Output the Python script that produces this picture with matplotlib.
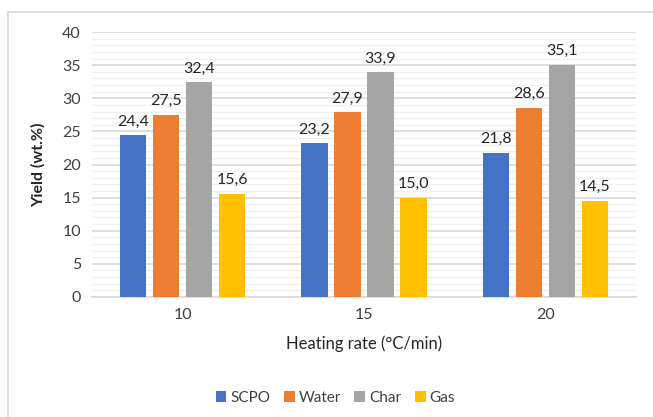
import numpy as np
import matplotlib.pyplot as plt
from matplotlib.patches import Rectangle

plt.rcParams['font.family'] = ['Lato', 'DejaVu Sans']

rates = ["10", "15", "20"]
series = ["SCPO", "Water", "Char", "Gas"]
scpo = [24.4, 23.2, 21.8]
water = [27.5, 27.9, 28.6]
char = [32.4, 33.9, 35.1]
gas = [15.6, 15.0, 14.5]
colors = ["#4472C4", "#ED7D31", "#A5A5A5", "#FFC000"]

fig = plt.figure(figsize=(6.53, 4.17), dpi=100)
ax = fig.add_axes([0.141, 0.288, 0.833, 0.635])

# outer chart border
fig.patches.append(Rectangle((8 / 653, -0.1), 1.2, 0.1 + 1 - 12 / 417,
                             transform=fig.transFigure, fill=False,
                             edgecolor="#D9D9D9", linewidth=1.2))

x = np.arange(len(rates))
width = 0.144
step = 0.182
for i, (name, vals, c) in enumerate(zip(series, [scpo, water, char, gas], colors)):
    pos = x + (i - 1.5) * step
    bars = ax.bar(pos, vals, width, color=c, label=name, zorder=3)
    for b, v in zip(bars, vals):
        ax.text(b.get_x() + b.get_width() / 2, v + 1.0, f"{v:.1f}".replace(".", ","),
                ha="center", va="bottom", fontsize=11.5, color="#262626")

ax.set_xlim(-0.5, 2.5)
ax.set_ylim(0, 40)
ax.set_yticks(range(0, 41, 5))
ax.set_yticks(range(0, 41, 1), minor=True)
ax.set_xticks(x)
ax.set_xticklabels(rates)
ax.tick_params(axis="both", length=0, labelsize=11.5, labelcolor="#404040", pad=8)
ax.tick_params(axis="y", which="minor", length=0)
ax.grid(axis="y", which="major", color="#D9D9D9", linewidth=1.2, zorder=0)
ax.grid(axis="y", which="minor", color="#F0F0F0", linewidth=1.0, zorder=0)
for s in ["top", "right", "left"]:
    ax.spines[s].set_visible(False)
ax.spines["bottom"].set_color("#D9D9D9")
ax.spines["bottom"].set_linewidth(1.2)

ax.set_xlabel("Heating rate (°C/min)", fontsize=12, color="#262626", labelpad=10)
ax.set_ylabel("Yield (wt.%)", fontsize=11.5, color="#262626", fontweight="bold", labelpad=12)

ax.legend(loc="center", bbox_to_anchor=(0.447, -0.38), ncol=4, frameon=False,
          fontsize=11, handlelength=0.7, handleheight=0.7, handletextpad=0.25,
          columnspacing=0.9, labelcolor="#404040")

fig.savefig("out.png", dpi=100)
